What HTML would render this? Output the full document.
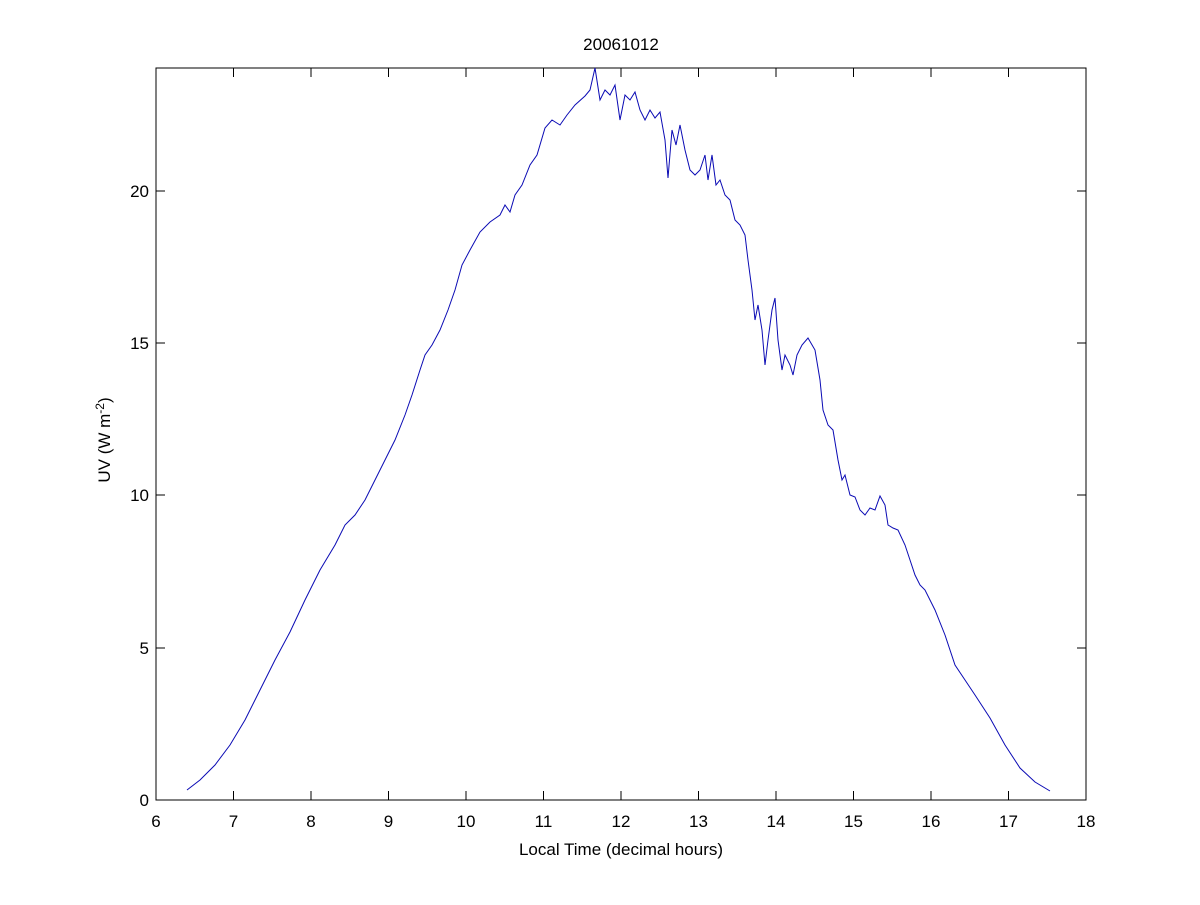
<!DOCTYPE html>
<html><head><style>body{margin:0;background:#fff}</style></head><body>
<svg width="1200" height="900" xmlns="http://www.w3.org/2000/svg" font-family="Liberation Sans, sans-serif" font-size="17">
<rect width="1200" height="900" fill="#fff"/>
<rect x="156" y="68" width="930" height="732" fill="none" stroke="#000" stroke-width="1"/>
<g stroke="#000" stroke-width="1">
<path d="M156 800v-9M233.5 800v-9M311 800v-9M388.5 800v-9M466 800v-9M543.5 800v-9M621 800v-9M698.5 800v-9M776 800v-9M853.5 800v-9M931 800v-9M1008.5 800v-9M1086 800v-9"/>
<path d="M156 68v9M233.5 68v9M311 68v9M388.5 68v9M466 68v9M543.5 68v9M621 68v9M698.5 68v9M776 68v9M853.5 68v9M931 68v9M1008.5 68v9M1086 68v9"/>
<path d="M156 800h9M156 648h9M156 495h9M156 343h9M156 191h9M1086 800h-9M1086 648h-9M1086 495h-9M1086 343h-9M1086 191h-9"/>
</g>
<g text-anchor="middle">
<text x="156" y="827">6</text><text x="233.5" y="827">7</text><text x="311" y="827">8</text><text x="388.5" y="827">9</text><text x="466" y="827">10</text><text x="543.5" y="827">11</text><text x="621" y="827">12</text><text x="698.5" y="827">13</text><text x="776" y="827">14</text><text x="853.5" y="827">15</text><text x="931" y="827">16</text><text x="1008.5" y="827">17</text><text x="1086" y="827">18</text>
<text x="621" y="855">Local Time (decimal hours)</text>
<text x="621" y="50">20061012</text>
</g>
<g text-anchor="end">
<text x="149" y="806">0</text><text x="149" y="654">5</text><text x="149" y="501">10</text><text x="149" y="349">15</text><text x="149" y="197">20</text>
</g>
<text transform="translate(110,440) rotate(-90)" text-anchor="middle">UV (W m<tspan dy="-6" font-size="12">-2</tspan><tspan dy="6">)</tspan></text>
<polyline fill="none" stroke="#0a0ab4" stroke-width="1" points="187,790 200,780 215,765 230,745 245,720 260,690 275,660 290,632 305,600 320,570 335,545 345,525 355,515 365,500 375,480 385,460 395,440 405,415 412,395 420,370 425,355 432,345 440,330 448,310 455,290 462,265 470,250 480,232 490,222 500,215 505,205 510,212 515,195 522,185 530,165 537,155 545,128 552,120 560,125 567,115 575,105 585,96 590,90 595,68 600,100 605,90 610,95 615,85 620,120 625,95 630,100 635,92 640,110 645,120 650,110 655,118 660,112 665,140 668,178 672,130 676,145 680,125 685,150 690,170 695,175 700,170 705,155 708,180 712,155 716,185 720,180 725,195 730,200 735,220 740,225 745,235 748,260 752,290 755,320 758,305 762,330 765,365 768,340 772,310 775,298 778,340 782,370 785,355 790,365 793,375 797,355 802,345 808,338 815,350 820,380 823,410 828,425 833,430 838,460 842,480 845,475 850,495 855,497 860,510 865,515 870,508 875,510 880,496 885,505 888,525 893,528 898,530 905,545 910,560 915,575 920,585 925,590 935,610 945,635 955,665 965,680 975,695 990,718 1005,745 1020,768 1035,782 1050,791"/>
</svg>
</body></html>
